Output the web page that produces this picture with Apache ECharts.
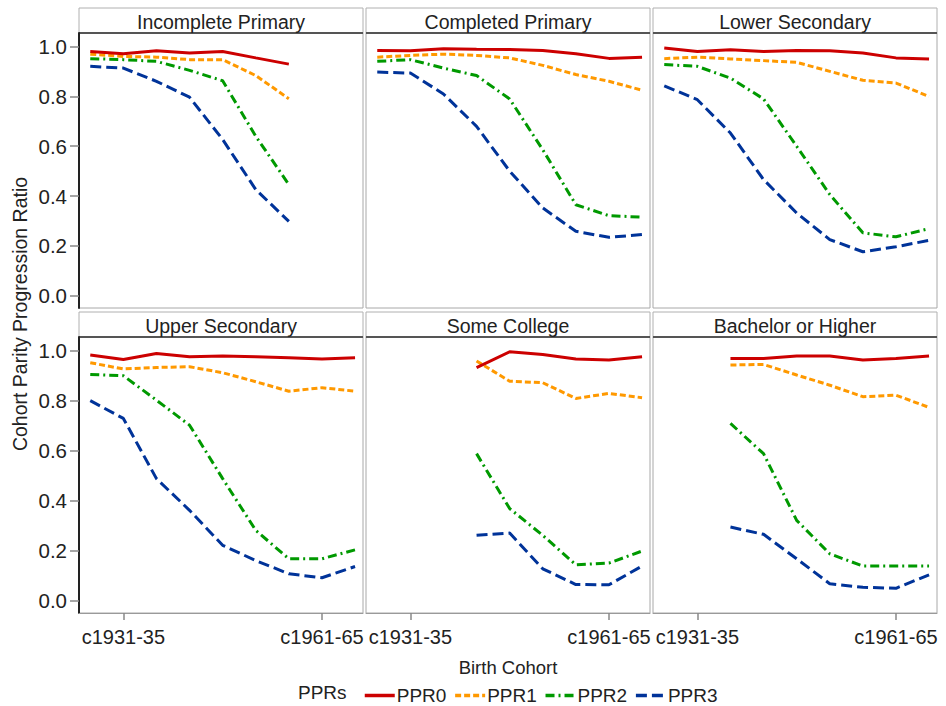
<!DOCTYPE html>
<html>
<head>
<meta charset="utf-8">
<script src="https://cdn.jsdelivr.net/npm/echarts@6/dist/echarts.min.js"></script>
<style>html,body{margin:0;padding:0;background:#fff}#chart{width:946px;height:706px}</style>
</head>
<body>
<div id="chart"></div>
<script>
const cohorts = ['c1926-30','c1931-35','c1936-40','c1941-45','c1946-50','c1951-55','c1956-60','c1961-65','c1966-70'];
const xTickIdx = [1, 7];
const yTicks = [0, 0.2, 0.4, 0.6, 0.8, 1.0];
const panelTitles = ['Incomplete Primary','Completed Primary','Lower Secondary','Upper Secondary','Some College','Bachelor or Higher'];
const seriesNames = ['PPR0','PPR1','PPR2','PPR3'];

// Incomplete Primary
const incPrimPPR0 = [0.981,0.972,0.984,0.975,0.981,0.955,0.930,null,null];
const incPrimPPR1 = [0.970,0.961,0.958,0.948,0.948,0.884,0.791,null,null];
const incPrimPPR2 = [0.952,0.948,0.941,0.905,0.863,0.640,0.446,null,null];
const incPrimPPR3 = [0.921,0.914,0.861,0.797,0.627,0.426,0.298,null,null];
// Completed Primary
const compPrimPPR0 = [0.985,0.984,0.992,0.990,0.989,0.985,0.972,0.953,0.958];
const compPrimPPR1 = [0.958,0.965,0.970,0.965,0.955,0.925,0.888,0.861,0.825];
const compPrimPPR2 = [0.941,0.948,0.914,0.884,0.790,0.586,0.365,0.321,0.315];
const compPrimPPR3 = [0.898,0.894,0.810,0.680,0.500,0.352,0.258,0.234,0.245];
// Lower Secondary
const lowSecPPR0 = [0.995,0.981,0.988,0.981,0.985,0.984,0.975,0.955,0.951];
const lowSecPPR1 = [0.952,0.958,0.951,0.944,0.937,0.901,0.865,0.854,0.800];
const lowSecPPR2 = [0.928,0.921,0.874,0.790,0.600,0.406,0.252,0.236,0.269];
const lowSecPPR3 = [0.843,0.787,0.653,0.466,0.332,0.225,0.176,0.196,0.222];
// Upper Secondary
const upSecPPR0 = [0.983,0.965,0.989,0.976,0.979,0.976,0.972,0.967,0.972];
const upSecPPR1 = [0.952,0.927,0.933,0.936,0.912,0.876,0.838,0.852,0.838];
const upSecPPR2 = [0.905,0.900,0.802,0.702,0.488,0.281,0.167,0.167,0.203];
const upSecPPR3 = [0.800,0.729,0.488,0.361,0.221,0.160,0.107,0.091,0.136];
// Some College
const collPPR0 = [null,null,null,0.932,0.996,0.985,0.967,0.963,0.976];
const collPPR1 = [null,null,null,0.959,0.878,0.872,0.809,0.829,0.812];
const collPPR2 = [null,null,null,0.588,0.368,0.261,0.143,0.150,0.198];
const collPPR3 = [null,null,null,0.261,0.270,0.127,0.064,0.063,0.138];
// Bachelor or Higher
const bachPPR0 = [null,null,0.969,0.969,0.979,0.979,0.963,0.969,0.979];
const bachPPR1 = [null,null,0.943,0.945,0.903,0.862,0.816,0.822,0.773];
const bachPPR2 = [null,null,0.709,0.588,0.321,0.187,0.138,0.138,0.138];
const bachPPR3 = [null,null,0.294,0.265,0.167,0.067,0.053,0.049,0.103];

const panelData = [
  [incPrimPPR0, incPrimPPR1, incPrimPPR2, incPrimPPR3],
  [compPrimPPR0, compPrimPPR1, compPrimPPR2, compPrimPPR3],
  [lowSecPPR0, lowSecPPR1, lowSecPPR2, lowSecPPR3],
  [upSecPPR0, upSecPPR1, upSecPPR2, upSecPPR3],
  [collPPR0, collPPR1, collPPR2, collPPR3],
  [bachPPR0, bachPPR1, bachPPR2, bachPPR3]
];

const colors = ['#cc0000', '#ff9900', '#009900', '#003399'];
const dashes = ['solid', [6, 3], [9, 4, 2, 4], [11, 5]];
const FONT = 'Liberation Sans, Arial, sans-serif';

const lefts = [79, 366, 653];
const pw = 284;
const tops = [33, 337];
const heights = [275, 276];
const headH = 25;

const grids = [], xAxes = [], yAxes = [], series = [], graphics = [];
for (let p = 0; p < 6; p++) {
  const r = Math.floor(p / 3), c = p % 3;
  grids.push({left: lefts[c], top: tops[r], width: pw, height: heights[r], show: true, borderColor: '#a8a8a8', borderWidth: 1, backgroundColor: '#fff', containLabel: false});
  xAxes.push({
    type: 'value', gridIndex: p, min: -0.34, max: 8.24,
    axisLine: {show: r === 1, onZero: false, lineStyle: {color: '#9a9a9a', width: 1}},
    axisTick: {show: r === 1, length: 7, customValues: xTickIdx, lineStyle: {color: '#888', width: 1.5}},
    axisLabel: {show: r === 1, customValues: xTickIdx, formatter: v => cohorts[Math.round(v)], fontSize: 20, fontFamily: FONT, color: '#222', margin: 14},
    splitLine: {show: false}
  });
  yAxes.push({
    type: 'value', gridIndex: p, min: -0.05, max: 1.055,
    axisLine: {show: c === 0, onZero: false, lineStyle: {color: '#222', width: 2}},
    axisTick: {show: c === 0, length: 9, customValues: yTicks, lineStyle: {color: '#888', width: 1.5}},
    axisLabel: {show: c === 0, customValues: yTicks, formatter: v => v.toFixed(1), fontSize: 20.5, fontFamily: FONT, color: '#222', margin: 12},
    splitLine: {show: false}
  });
  for (let s = 0; s < 4; s++) {
    const arr = panelData[p][s];
    const d = [];
    arr.forEach((v, i) => { if (v !== null) d.push([i, v]); });
    series.push({
      name: seriesNames[s], type: 'line', xAxisIndex: p, yAxisIndex: p,
      data: d, symbol: 'none', showSymbol: false, smooth: false,
      lineStyle: {color: colors[s], width: 3, type: dashes[s], cap: 'butt'},
      itemStyle: {color: colors[s]},
      z: 10 - s
    });
  }
  const hy = tops[r] - headH;
  graphics.push({type: 'rect', shape: {x: lefts[c], y: hy, width: pw, height: headH}, style: {fill: '#fff', stroke: '#b0b0b0', lineWidth: 1}});
  graphics.push({type: 'line', shape: {x1: lefts[c], y1: tops[r], x2: lefts[c] + pw, y2: tops[r]}, style: {stroke: '#555', lineWidth: 2}});
  graphics.push({type: 'text', x: lefts[c] + pw / 2, y: hy + headH / 2 + 1, style: {text: panelTitles[p], fontSize: 19.5, fontFamily: FONT, fill: '#222', textAlign: 'center', textVerticalAlign: 'middle'}});
}

graphics.push({type: 'text', x: 20, y: 314, rotation: Math.PI / 2, style: {text: 'Cohort Parity Progression Ratio', fontSize: 19.5, fontFamily: FONT, fill: '#222', textAlign: 'center', textVerticalAlign: 'middle'}});
graphics.push({type: 'text', x: 508, y: 667, style: {text: 'Birth Cohort', fontSize: 18.5, fontFamily: FONT, fill: '#222', textAlign: 'center', textVerticalAlign: 'middle'}});
graphics.push({type: 'text', x: 298, y: 692, style: {text: 'PPRs', fontSize: 19, fontFamily: FONT, fill: '#222', textAlign: 'left', textVerticalAlign: 'middle'}});

const chart = echarts.init(document.getElementById('chart'), null, {renderer: 'svg'});
chart.setOption({
  animation: false,
  backgroundColor: '#fff',
  grid: grids, xAxis: xAxes, yAxis: yAxes, series: series,
  legend: {
    data: seriesNames, left: 358, top: 681, itemWidth: 30, itemHeight: 14, itemGap: 7,
    itemStyle: {opacity: 0},
    lineStyle: {width: 3.5},
    textStyle: {fontSize: 19, fontFamily: FONT, color: '#222', padding: [0, 0, 0, -3]},
    selectedMode: false
  },
  graphic: graphics
});
</script>
</body>
</html>
